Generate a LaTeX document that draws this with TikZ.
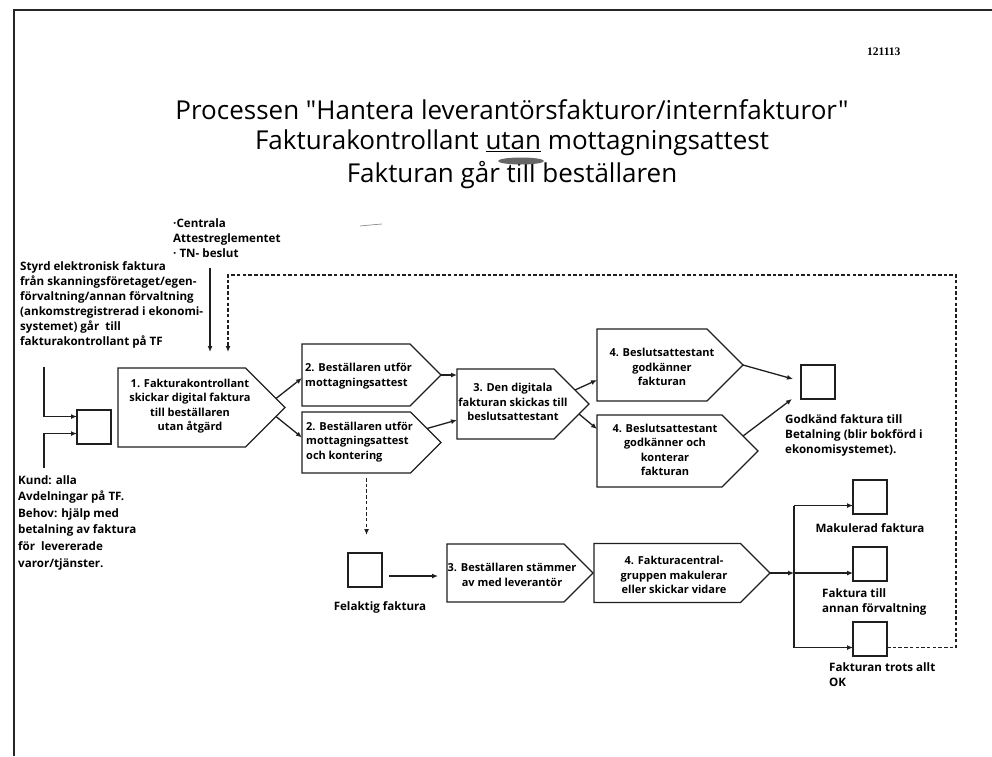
\documentclass[tikz,border=0pt]{standalone}
\usepackage{fontspec}
\setmainfont{Open Sans}[Ligatures=TeXOff]
\newfontfamily\stampfont{Liberation Serif}
\usetikzlibrary{shapes.symbols,arrows.meta,calc}
\begin{document}
\begin{tikzpicture}[x=1pt,y=-1pt,
  ink/.style={draw=black!88, line width=1.3pt},
  stepbox/.style={signal, signal to=east, signal from=nowhere, ink, anchor=west, outer sep=0pt, inner sep=0pt},
  boxtext/.style={inner sep=0pt, align=center, font=\fontsize{11}{14.5}\selectfont\bfseries},
  doc/.style={ink, rectangle, minimum width=34pt, minimum height=34pt, inner sep=0pt, outer sep=0pt, anchor=north west},
  note/.style={inner sep=0pt, anchor=north west, align=left, font=\fontsize{11.6}{15}\selectfont\bfseries},
  headline/.style={inner sep=0pt, font=\fontsize{26}{30}\selectfont},
  arr/.style={ink, -{Latex[length=6pt,width=5pt]}},
  dsh/.style={ink, dash pattern=on 3.5pt off 2.2pt},
]
\useasboundingbox (0,0) rectangle (992,756);

% page frame
\draw[line width=2.2pt, black!85] (14,756) -- (14,10) -- (992,10);

% date stamp and heading
\node[anchor=west, inner sep=0pt, font=\stampfont\bfseries\fontsize{11.5}{13}\selectfont] (stamp) at (867,52) {121113};
\node[headline] (t1) at (512,110) {Processen "Hantera leverantörsfakturor/internfakturor"};
\node[headline] (t2) at (512,143) {Fakturakontrollant \underline{utan} mottagningsattest};
\node[headline] (t3) at (512,175) {Fakturan går till beställaren};
\fill[black!60] (521,161) ellipse [x radius=23pt, y radius=3.5pt];
\draw[black!45, line width=0.7pt] (360,226) .. controls (370,225) .. (382,224);

% inputs and conditions
\node[note] (rules) at (173,218) {·Centrala\\Attestreglementet\\· TN- beslut};
\node[note] (source) at (20,261) {Styrd elektronisk faktura\\från skanningsföretaget/egen-\\förvaltning/annan förvaltning\\(ankomstregistrerad i ekonomi-\\systemet) går\ \ till\\fakturakontrollant på TF};
\node[note, font=\fontsize{11.6}{16.6}\selectfont\bfseries] (customer) at (18,475) {Kund: alla\\Avdelningar på TF.\\Behov: hjälp med\\betalning av faktura\\för\ \ levererade\\varor/tjänster.};

% process steps
\node[stepbox, minimum width=167pt, minimum height=79pt] (b1) at (118,407.5) {};
\node[stepbox, minimum width=139pt, minimum height=62pt] (b2a) at (302,375) {};
\node[stepbox, minimum width=139pt, minimum height=61pt] (b2b) at (302,442.5) {};
\node[stepbox, minimum width=132pt, minimum height=70pt] (b3) at (457,404) {};
\node[stepbox, minimum width=146pt, minimum height=72pt] (b4a) at (597,365) {};
\node[stepbox, minimum width=161pt, minimum height=72pt] (b4b) at (597,451) {};
\node[stepbox, minimum width=146pt, minimum height=58pt] (b5) at (447,573) {};
\node[stepbox, minimum width=176pt, minimum height=59pt] (b6) at (594,573) {};

\node[boxtext] (b1t) at (190,406) {1. Fakturakontrollant\\skickar digital faktura\\till beställaren\\utan åtgärd};
\node[boxtext, align=left, anchor=west] (b2at) at (305,376) {2. Beställaren utför\\mottagningsattest};
\node[boxtext, align=left, anchor=west] (b2bt) at (306,442) {2. Beställaren utför\\mottagningsattest\\och kontering};
\node[boxtext] (b3t) at (513,402) {3. Den digitala\\fakturan skickas till\\beslutsattestant};
\node[boxtext] (b4at) at (662,367) {4. Beslutsattestant\\godkänner\\fakturan};
\node[boxtext] (b4bt) at (665,450) {4. Beslutsattestant\\godkänner och\\konterar\\fakturan};
\node[boxtext] (b5t) at (512,575) {3. Beställaren stämmer\\av med leverantör};
\node[boxtext] (b6t) at (674,575) {4. Fakturacentral-\\gruppen makulerar\\eller skickar vidare};

% documents
\node[doc] (sq0) at (77,410) {};
\node[doc] (sqG) at (801,365) {};
\node[doc] (sqF) at (348,553) {};
\node[doc] (sqM) at (853,480) {};
\node[doc] (sqA) at (853,547) {};
\node[doc] (sqO) at (853,622) {};

\node[note] (sqGt) at (785,414) {Godkänd faktura till\\Betalning (blir bokförd i\\ekonomisystemet).};
\node[inner sep=0pt, font=\fontsize{11.6}{15}\selectfont\bfseries] (sqFt) at (380,607) {Felaktig faktura};
\node[inner sep=0pt, font=\fontsize{11.6}{15}\selectfont\bfseries] (sqMt) at ($(sqM.south)+(0,14)$) {Makulerad faktura};
\node[note] (sqAt) at (822,588) {Faktura till\\annan förvaltning};
\node[note] (sqOt) at (829,662) {Fakturan trots allt\\OK};

% incoming flows
\coordinate (inA) at (44,367);
\coordinate (inB) at (44,468);
\draw[arr] (inA) |- ($(sq0.west)+(0,-10.5)$);
\draw[arr] (inB) |- ($(sq0.west)+(0,6.5)$);
\coordinate (rulesIn) at (210,268);
\coordinate (rulesEnd) at (210,352);
\draw[arr] (rulesIn) -- (rulesEnd);

% main flow
\draw[arr] ($(b1.east)+(-9,-9)$) -- ($(b2a.west)+(0,3)$);
\draw[arr] ($(b1.east)+(-9,9)$) -- ($(b2b.west)+(0,-5)$);
\draw[arr] (b2a.east) -- (b2a.east -| b3.west);
\draw[arr] ($(b2b.east)+(-14,-14)$) -- ($(b3.west)+(0,16)$);
\draw[arr] ($(b3.east)+(-14,-14)$) -- ($(b4a.west)+(0,15)$);
\draw[arr] ($(b3.east)+(-10,10)$) -- ($(b4b.west)+(0,-22)$);
\draw[arr] (b4a.east) -- ($(sqG.west)+(-8,-3)$);
\draw[arr] ($(b4b.east)+(-15,-15)$) -- ($(sqG.west)+(-9,17)$);

% faulty invoice branch
\coordinate (fTop) at ($(sqF.north)+(1.5,-75)$);
\coordinate (fEnd) at ($(sqF.north)+(1.5,-18)$);
\draw[dsh, -{Latex[length=6pt,width=5pt]}] (fTop) -- (fEnd);
\draw[arr] ($(sqF.east)+(7,6)$) -- ($(b5.west)+(-9,3)$);

% outcomes of the invoice centre
\path (sqA.west) ++(-59,0) coordinate (brX);
\coordinate (jn) at (brX |- b6.east);
\draw[arr] (b6.east) -- (jn);
\draw[arr] (jn) -- (jn -| sqA.west);
\coordinate (brTop) at ($(sqM.west)+(-59,8.5)$);
\coordinate (brBot) at ($(sqO.west)+(-59,8.5)$);
\draw[ink] (brTop) -- (brBot);
\draw[arr] (brTop) -- ($(sqM.west)+(0,8.5)$);
\draw[arr] (brBot) -- ($(sqO.west)+(0,8.5)$);

% return loop
\coordinate (loopR) at ($(sqO.east)+(69,8.5)$);
\coordinate (loopTop) at (228,275);
\coordinate (loopEnd) at (228,352);
\draw[dsh, -{Latex[length=6pt,width=5pt]}] ($(sqO.east)+(0,8.5)$) -- (loopR) |- (loopTop) -- (loopEnd);
\end{tikzpicture}
\end{document}
